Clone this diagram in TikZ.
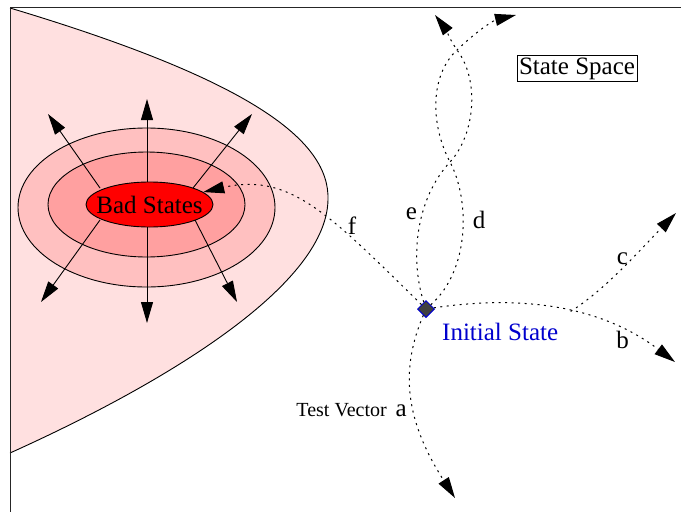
\documentclass[tikz,border=0pt]{standalone}
\usepackage{fontspec}
\setmainfont{Liberation Serif}
\usetikzlibrary{arrows.meta,shapes.geometric}
\definecolor{regionpink}{RGB}{255,224,224}
\definecolor{ringouter}{RGB}{255,192,192}
\definecolor{ringinner}{RGB}{255,160,160}
\definecolor{badred}{RGB}{255,0,0}
\definecolor{initblue}{RGB}{0,0,205}
\definecolor{initgray}{RGB}{64,64,64}
\begin{document}
\begin{tikzpicture}[x=1pt,y=-1pt,
  bigtxt/.style={font=\fontsize{25}{30}\selectfont},
  smalltxt/.style={font=\fontsize{20}{24}\selectfont},
  lbl/.style={bigtxt,inner sep=0pt},
  solidarrow/.style={line width=0.9pt,-{Triangle[length=21pt,width=12pt]}},
  dotline/.style={line width=1pt,dash pattern=on 2pt off 4.5pt},
  dotarrow/.style={dotline,-{Triangle[length=21pt,width=12pt]}},
  ring/.style={ellipse,draw,line width=0.9pt,inner sep=0pt}]
\useasboundingbox (0,0) rectangle (681,512);
% bad region
\path[fill=regionpink,draw=black,line width=0.9pt] (10,8) .. controls (250,80) and (330,140) .. (328,200) .. controls (326,290) and (150,390) .. (10,453);
% frame
\draw[line width=1pt,black!85] (10,512) -- (10,7) -- (681,7);
% rings
\node[ring,fill=ringouter,minimum width=257pt,minimum height=159pt] (outer) at (146.5,207.5) {};
\node[ring,fill=ringinner,minimum width=197pt,minimum height=105pt] (inner) at (146.5,204.5) {};
\node[ring,fill=badred,minimum width=127pt,minimum height=45pt] (bad) at (149.5,204.5) {};
\node[bigtxt,inner sep=0pt] (badtxt) at (bad.center) {Bad States};
% outward arrows
\coordinate (sN) at (147,182);  \coordinate (tN) at (147,99);
\coordinate (sS) at (147,227);  \coordinate (tS) at (147,323);
\coordinate (sNW) at (100,188); \coordinate (tNW) at (48,114);
\coordinate (sNE) at (193,188); \coordinate (tNE) at (252,114);
\coordinate (sSW) at (100,220); \coordinate (tSW) at (41,302);
\coordinate (sSE) at (195,220); \coordinate (tSE) at (237,302);
\draw[solidarrow] (sN) -- (tN);
\draw[solidarrow] (sS) -- (tS);
\draw[solidarrow] (sNW) -- (tNW);
\draw[solidarrow] (sNE) -- (tNE);
\draw[solidarrow] (sSW) -- (tSW);
\draw[solidarrow] (sSE) -- (tSE);
% state space label
\node[bigtxt,draw,line width=0.8pt,inner sep=2pt] (ss) at (577,68.5) {State Space};
% initial state
\node[diamond,draw=initblue,fill=initgray,minimum size=17pt,inner sep=0pt,line width=1pt] (init) at (426,309) {};
\node[bigtxt,text=initblue,anchor=base west,inner sep=0pt] (initlbl) at (442,340) {Initial State};
% trajectories
\coordinate (tA) at (455,498);
\coordinate (tB) at (675,362);
\coordinate (tC) at (676,213);
\coordinate (tD) at (516,15);
\coordinate (tE) at (435,15);
\coordinate (x1) at (450,162);
\coordinate (x2) at (457,50);
\draw[dotarrow] (init) .. controls (400,370) and (405,420) .. (tA);
\draw[dotarrow] (init) .. controls (520,295) and (600,305) .. (tB) coordinate[pos=0.55] (br);
\draw[dotarrow] (br) .. controls (605,290) and (640,250) .. (tC);
\draw[dotarrow] (init) .. controls (330,215) and (290,172) .. (bad);
\draw[dotarrow] (init) .. controls (410,260) and (415,200) .. (x1) .. controls (475,135) and (480,80) .. (x2) .. controls (450,40) and (445,28) .. (tE);
\draw[dotarrow] (init) .. controls (470,270) and (470,200) .. (x1) .. controls (430,124) and (430,75) .. (x2) .. controls (480,28) and (495,20) .. (tD);
% letters
\node[lbl] (lf) at (352,226) {f};
\node[lbl] (le) at (411.5,214) {e};
\node[lbl] (ld) at (479,220) {d};
\node[lbl] (lc) at (622.5,259) {c};
\node[lbl] (lb) at (622.5,340) {b};
\node[anchor=base east,inner sep=0pt] (tv) at (407,416) {{\fontsize{20}{24}\selectfont Test Vector}\hspace{9pt}{\fontsize{25}{30}\selectfont a}};
\end{tikzpicture}
\end{document}
